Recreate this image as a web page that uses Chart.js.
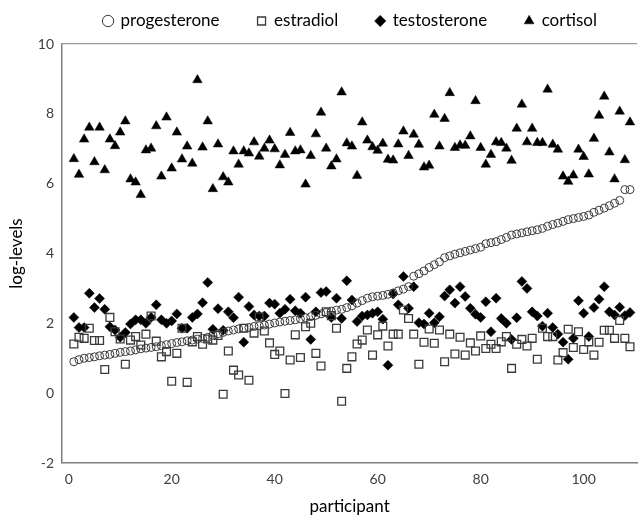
<!DOCTYPE html>
<html><head><meta charset="utf-8">
<script src="https://cdn.jsdelivr.net/npm/chart.js@4.4.1/dist/chart.umd.min.js"></script>
<style>html,body{margin:0;padding:0;background:#fff;overflow:hidden}#wrap{width:644px;height:517px;position:relative}</style>
</head><body><div id="wrap"><canvas id="c" width="644" height="517"></canvas></div>
<script>
const participants = [1,2,3,4,5,6,7,8,9,10,11,12,13,14,15,16,17,18,19,20,21,22,23,24,25,26,27,28,29,30,31,32,33,34,35,36,37,38,39,40,41,42,43,44,45,46,47,48,49,50,51,52,53,54,55,56,57,58,59,60,61,62,63,64,65,66,67,68,69,70,71,72,73,74,75,76,77,78,79,80,81,82,83,84,85,86,87,88,89,90,91,92,93,94,95,96,97,98,99,100,101,102,103,104,105,106,107,108,109];

const progesterone = [0.90,0.96,1.00,1.02,1.04,1.07,1.09,1.11,1.14,1.17,1.19,1.21,1.24,1.27,1.29,1.31,1.33,1.36,1.39,1.42,1.45,1.47,1.50,1.52,1.55,1.57,1.60,1.66,1.70,1.74,1.78,1.81,1.84,1.86,1.88,1.91,1.93,1.95,1.98,2.01,2.04,2.06,2.08,2.10,2.13,2.16,2.19,2.23,2.27,2.31,2.35,2.38,2.40,2.45,2.50,2.58,2.65,2.72,2.76,2.78,2.80,2.83,2.87,2.93,2.98,3.05,3.35,3.42,3.50,3.60,3.68,3.76,3.88,3.93,3.98,4.02,4.06,4.10,4.14,4.18,4.28,4.31,4.34,4.40,4.46,4.53,4.56,4.59,4.62,4.65,4.68,4.72,4.78,4.83,4.87,4.92,4.97,5.00,5.03,5.06,5.10,5.18,5.24,5.30,5.37,5.44,5.52,5.83,5.83];

const estradiol = [1.41,1.60,1.57,1.86,1.51,1.51,0.68,2.17,1.76,1.55,0.83,1.52,1.62,1.38,1.69,2.21,1.49,1.04,1.19,0.34,1.14,1.86,0.31,1.47,1.62,1.40,1.55,1.52,1.65,-0.03,1.21,0.66,0.52,1.86,0.37,1.72,2.18,1.78,1.44,1.11,1.21,-0.01,0.95,1.67,1.02,1.90,2.00,1.14,0.78,2.33,2.22,1.86,-0.23,0.71,1.04,1.41,1.52,1.81,1.09,1.67,1.92,1.35,1.69,1.69,2.38,2.14,1.69,0.83,1.46,1.84,1.43,1.81,0.90,1.69,1.12,1.60,1.09,1.44,1.21,1.64,1.28,1.40,1.28,1.47,1.62,0.71,1.40,1.54,1.35,1.57,0.97,1.86,1.62,1.62,0.95,1.16,1.83,1.31,1.76,1.25,1.47,1.09,1.46,1.80,1.80,1.57,2.08,1.57,1.33];

const testosterone = [2.17,1.88,1.88,2.86,2.45,2.71,2.40,1.90,1.81,1.60,1.74,1.98,2.10,2.10,2.00,2.17,2.53,2.10,2.00,2.07,2.27,1.86,1.86,2.17,2.27,2.59,3.17,1.83,2.42,1.80,2.33,2.16,2.75,1.46,2.48,2.24,2.21,2.21,2.58,2.55,2.29,2.40,2.69,2.36,2.29,2.75,1.54,2.33,2.88,2.91,2.17,2.72,2.14,3.22,2.67,2.05,2.21,2.24,2.29,2.33,2.12,0.80,2.84,2.53,3.34,2.43,3.05,2.02,1.98,2.29,2.02,2.19,2.78,2.96,2.58,3.05,2.77,2.43,2.26,2.17,2.62,1.76,2.72,2.14,2.00,1.54,2.16,3.20,3.00,2.33,2.21,1.92,2.29,1.88,1.69,1.46,0.97,1.57,2.65,2.29,1.62,2.45,2.69,3.05,2.33,2.24,2.46,2.22,2.31];

const cortisol = [6.71,6.26,7.27,7.61,6.62,7.61,6.39,7.27,7.08,7.47,7.79,6.13,6.04,5.68,6.96,7.01,7.65,6.21,7.90,6.44,7.47,6.70,7.07,6.58,8.97,7.04,7.79,5.85,7.13,6.19,6.04,6.93,6.55,6.93,6.87,7.19,6.78,7.01,7.24,6.99,6.53,6.83,7.46,6.93,6.96,5.98,6.80,7.42,8.04,7.01,6.50,6.70,8.62,7.16,7.07,6.23,7.76,7.24,7.05,6.95,7.15,6.69,6.67,7.13,7.50,6.80,7.41,7.12,6.47,6.52,7.98,7.07,7.86,8.60,7.03,7.10,7.09,7.36,8.37,7.03,6.55,6.83,7.19,7.17,7.01,6.66,7.58,8.27,7.19,7.58,7.17,7.17,8.70,7.12,6.98,6.21,6.06,6.24,6.98,6.77,6.27,7.29,7.95,8.50,6.90,6.13,8.07,6.68,7.76];

const xTicks = [0,20,40,60,80,100];
const yTicks = [-2,0,2,4,6,8,10];

const pts = arr => participants.map((p,i)=>({x:p,y:arr[i]}));
const FONT = 'Lato, "Open Sans", sans-serif';
const LEGEND_PAD = 38;

// place the legend row like the reference (centre y ~21, first marker at x ~105)
const legendPlace = {
  id:'legendPlace',
  afterLayout(chart){
    const lg = chart.legend;
    if(!lg) return;
    lg.top = 21 - 8.5 - LEGEND_PAD;
    lg.left += 29; lg.right += 29;
  }
};

new Chart(document.getElementById('c'), {
  type: 'scatter',
  data: {
    datasets: [
      {label:'progesterone', data:pts(progesterone), pointStyle:'circle', pointRadius:4, borderColor:'#3a3a3a', backgroundColor:'rgba(255,255,255,0)', borderWidth:1},
      {label:'estradiol', data:pts(estradiol), pointStyle:'rect', pointRadius:5.5, borderColor:'#3a3a3a', backgroundColor:'rgba(255,255,255,0)', borderWidth:1.3},
      {label:'testosterone', data:pts(testosterone), pointStyle:'rectRot', pointRadius:5, borderColor:'#000', backgroundColor:'#000', borderWidth:0.5},
      {label:'cortisol', data:pts(cortisol), pointStyle:'triangle', pointRadius:5.5, borderColor:'#000', backgroundColor:'#000', borderWidth:0.5}
    ]
  },
  plugins:[legendPlace],
  options: {
    responsive:false, animation:false,
    layout:{padding:{top:0,right:1,left:0,bottom:0}},
    plugins:{
      legend:{position:'top', maxHeight:44, labels:{usePointStyle:true, boxWidth:8, boxHeight:8, padding:LEGEND_PAD, color:'#000', font:{family:FONT, size:17}}},
      tooltip:{enabled:false}
    },
    scales:{
      x:{type:'linear', min:-1.3, max:110.4,
        afterBuildTicks:s=>{s.ticks = xTicks.map(v=>({value:v}));},
        grid:{display:false, drawTicks:false},
        border:{display:true, color:'#7f7f7f', width:1.5},
        ticks:{color:'#404040', font:{family:FONT, size:14}, padding:8, autoSkip:false, maxRotation:0},
        title:{display:true, text:'participant', color:'#000', font:{family:FONT, size:17}, padding:{top:6,bottom:0}},
        afterFit:s=>{s.height = 54;}
      },
      y:{min:-2, max:10,
        afterBuildTicks:s=>{s.ticks = yTicks.map(v=>({value:v}));},
        grid:{color:c=> (c.tick && c.tick.value===10) ? '#9a9a9a' : 'rgba(0,0,0,0)', lineWidth:1.3, drawTicks:false},
        border:{display:true, color:'#7f7f7f', width:1.5},
        ticks:{color:'#404040', font:{family:FONT, size:14}, padding:8},
        title:{display:true, text:'log-levels', color:'#000', font:{family:FONT, size:17}, padding:{top:6,bottom:4}},
        afterFit:s=>{s.width = 62;}
      }
    }
  }
});
</script></body></html>
